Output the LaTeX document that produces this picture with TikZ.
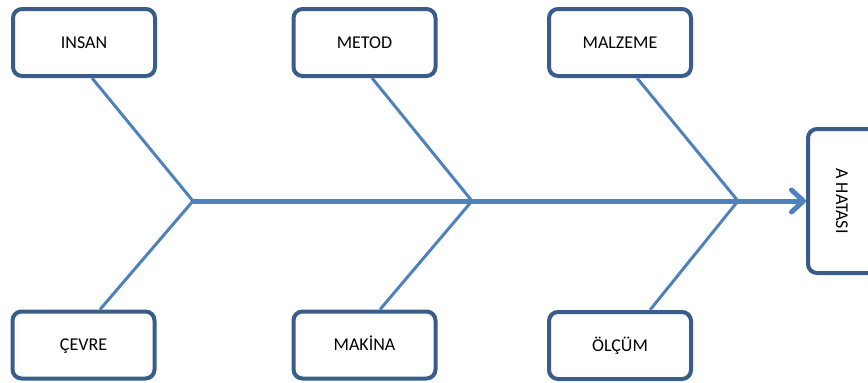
\documentclass[tikz,border=0pt]{standalone}
\usepackage{fontspec}
\setmainfont{Carlito}
\usetikzlibrary{arrows.meta,calc}
\definecolor{boxline}{HTML}{385D8A}
\definecolor{boneline}{HTML}{4F81BD}
\begin{document}
\begin{tikzpicture}[x=1pt,y=-1pt,
  cause/.style={draw=boxline, line width=4pt, fill=white, rounded corners=9pt,
    minimum width=142pt, minimum height=67pt, inner sep=0pt,
    text height=14pt, text depth=2.4pt,
    font=\fontsize{18}{22}\selectfont},
  effect/.style={draw=boxline, line width=4pt, fill=white, rounded corners=9pt,
    minimum width=68pt, minimum height=144pt, inner sep=0pt,
    font=\fontsize{18}{22}\selectfont},
  bone/.style={draw=boneline, line width=3pt},
  spine/.style={draw=boneline, line width=5pt, line cap=round,
    -{Straight Barb[length=12pt, width=22pt, line cap=round, line join=round]}}]
  \useasboundingbox (0,0) rectangle (868,383);
  \clip (0,0) rectangle (868,383);

  % spine junctions
  \coordinate (j1) at (193,201);
  \coordinate (j2) at (472,201);
  \coordinate (j3) at (738,201);

  % cause boxes
  \node[cause] (insan)   at (84,42.5)  {INSAN};
  \node[cause] (metod)   at (364.5,42.5) {METOD};
  \node[cause] (malzeme) at (620,42.5) {MALZEME};
  \node[cause] (cevre)   at (83.5,345) {ÇEVRE};
  \node[cause] (makina)  at (364.5,345) {MAKİNA};
  \node[cause] (olcum)   at (620,345.5) {ÖLÇÜM};

  % effect box
  \node[effect] (hata) at (842,201) {\rotatebox{-90}{A HATASI}};

  % bones
  \draw[bone] ($(insan.south)+(8,0)$) -- (j1);
  \draw[bone] ($(cevre.north)+(16.5,0)$) -- (j1);
  \draw[bone] ($(metod.south)+(7.5,0)$) -- (j2);
  \draw[bone] ($(makina.north)+(15.5,0)$) -- (j2);
  \draw[bone] ($(malzeme.south)+(17,0)$) -- (j3);
  \draw[bone] ($(olcum.north)+(30,0)$) -- (j3);

  % spine
  \draw[spine] (j1) -- (hata.west);
\end{tikzpicture}
\end{document}
